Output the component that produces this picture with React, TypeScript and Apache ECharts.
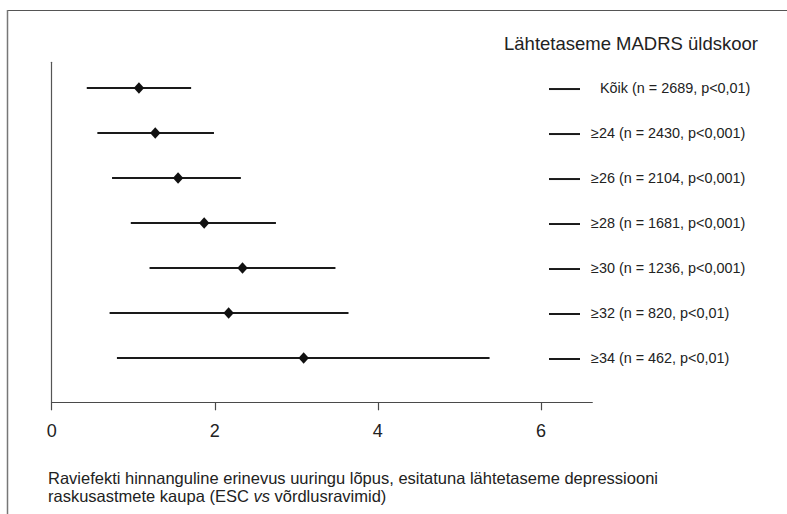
import React, { useEffect, useRef } from "react";
import * as echarts from "echarts";

const rowLabels = [
  "Kõik (n = 2689, p<0,01)",
  "≥24 (n = 2430, p<0,001)",
  "≥26 (n = 2104, p<0,001)",
  "≥28 (n = 1681, p<0,001)",
  "≥30 (n = 1236, p<0,001)",
  "≥32 (n = 820, p<0,01)",
  "≥34 (n = 462, p<0,01)",
];
const lowValues = [0.43, 0.56, 0.74, 0.97, 1.2, 0.71, 0.8];
const pointValues = [1.07, 1.27, 1.55, 1.87, 2.34, 2.17, 3.09];
const highValues = [1.71, 1.99, 2.32, 2.75, 3.48, 3.64, 5.37];
const xTicks = [0, 2, 4, 6];
const titleText = "Lähtetaseme MADRS üldskoor";
const captionLines = [
  "Raviefekti hinnanguline erinevus uuringu lõpus, esitatuna lähtetaseme depressiooni",
  "raskusastmete kaupa (ESC {i|vs} võrdlusravimid)",
];

const FONT = "'Liberation Sans', Arial, Helvetica, sans-serif";

export default function App() {
  const ref = useRef<HTMLDivElement>(null);
  useEffect(() => {
    document.body.style.margin = "0";
    const chart = echarts.init(ref.current!, null, { renderer: "svg" });
    const data = rowLabels.map((_, i) => [lowValues[i], pointValues[i], highValues[i], i]);
    chart.setOption({
      animation: false,
      backgroundColor: "#ffffff",
      grid: { left: 51.7, right: 194.7, top: 62.3, bottom: 111.7, containLabel: false },
      xAxis: {
        type: "value",
        min: 0,
        max: 6.63,
        interval: 2,
        axisLine: { show: true, onZero: false, lineStyle: { color: "#4a4a4a", width: 1.2 } },
        axisTick: { show: true, length: 8, lineStyle: { color: "#4a4a4a", width: 1.2 } },
        splitLine: { show: false },
        axisLabel: {
          margin: 20,
          fontSize: 18,
          color: "#222",
          fontFamily: FONT,
          formatter: (v: number) => (xTicks.includes(v) ? String(v) : ""),
          showMaxLabel: false,
        },
      },
      yAxis: {
        type: "value",
        inverse: true,
        min: -0.572,
        max: 6.984,
        axisLine: { show: true, onZero: false, lineStyle: { color: "#555", width: 1.2 } },
        axisTick: { show: false },
        axisLabel: { show: false },
        splitLine: { show: false },
      },
      series: [
        {
          type: "custom",
          data,
          clip: false,
          renderItem: (params: any, api: any) => {
            const row = api.value(3);
            const lo = api.coord([api.value(0), row]);
            const pt = api.coord([api.value(1), row]);
            const hi = api.coord([api.value(2), row]);
            const y = pt[1];
            const d = 5.2;
            const lx = row === 0 ? 600 : 591;
            return {
              type: "group",
              children: [
                {
                  type: "line",
                  shape: { x1: lo[0], y1: y, x2: hi[0], y2: y },
                  style: { stroke: "#1a1a1a", lineWidth: 2 },
                },
                {
                  type: "polygon",
                  shape: {
                    points: [
                      [pt[0], y - d - 0.5],
                      [pt[0] + d, y],
                      [pt[0], y + d + 0.5],
                      [pt[0] - d, y],
                    ],
                  },
                  style: { fill: "#111" },
                },
                {
                  type: "line",
                  shape: { x1: 549, y1: y + 1, x2: 580, y2: y + 1 },
                  style: { stroke: "#1a1a1a", lineWidth: 2 },
                },
                {
                  type: "text",
                  x: lx,
                  y: y,
                  style: {
                    text: rowLabels[row],
                    font: `14.4px ${FONT}`,
                    fill: "#222",
                    textAlign: "left",
                    textVerticalAlign: "middle",
                  },
                },
              ],
            };
          },
        },
      ],
      graphic: [
        {
          type: "line",
          shape: { x1: 7, y1: 10.5, x2: 787, y2: 10.5 },
          style: { stroke: "#555", lineWidth: 1.2 },
        },
        {
          type: "line",
          shape: { x1: 7.5, y1: 10, x2: 7.5, y2: 514 },
          style: { stroke: "#777", lineWidth: 1.5 },
        },
        {
          type: "text",
          right: 787 - 758,
          top: 34,
          style: {
            text: titleText,
            font: `18.5px ${FONT}`,
            fill: "#222",
          },
        },
        {
          type: "text",
          left: 48,
          top: 469,
          style: {
            text: captionLines.join("\n"),
            font: `16.5px ${FONT}`,
            fill: "#222",
            lineHeight: 17.7,
            rich: {
              i: { fontStyle: "italic", fontSize: 16.5, fontFamily: FONT, fill: "#222" },
            },
          },
        },
      ],
    });
    return () => chart.dispose();
  }, []);
  return <div ref={ref} style={{ width: 787, height: 514 }} />;
}
